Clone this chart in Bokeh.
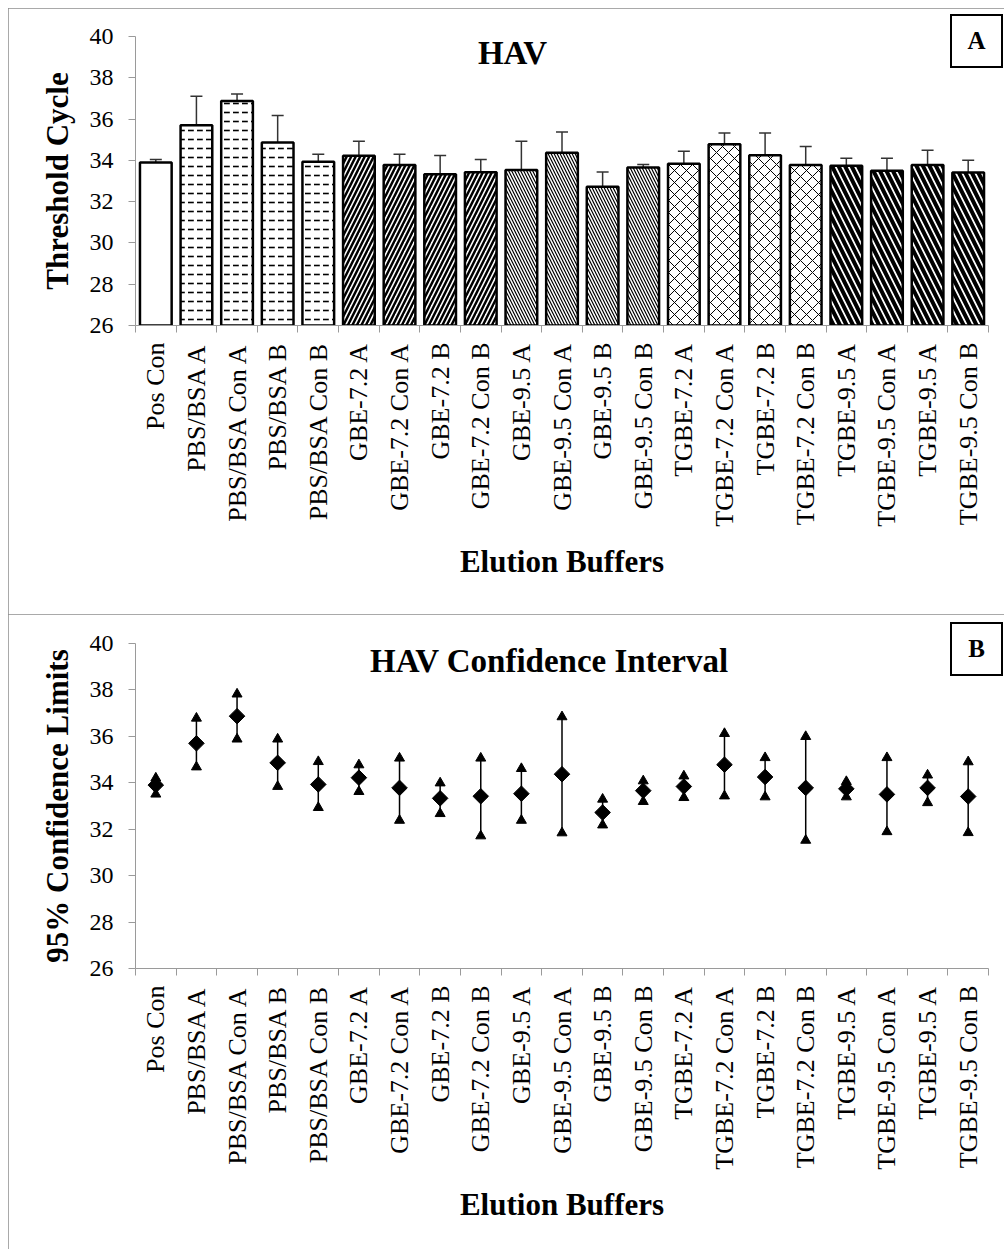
from bokeh.plotting import figure
from bokeh.models import (ColumnDataSource, FixedTicker, Whisker, TeeHead, Label,
                          Range1d, CustomJSTickFormatter, Div)
from bokeh.layouts import column
from bokeh.embed import file_html
from bokeh.resources import INLINE

# ---- data -------------------------------------------------------------
buffers = ["Pos Con", "PBS/BSA A", "PBS/BSA Con A", "PBS/BSA B", "PBS/BSA Con B",
           "GBE-7.2 A", "GBE-7.2 Con A", "GBE-7.2 B", "GBE-7.2 Con B",
           "GBE-9.5 A", "GBE-9.5 Con A", "GBE-9.5 B", "GBE-9.5 Con B",
           "TGBE-7.2 A", "TGBE-7.2 Con A", "TGBE-7.2 B", "TGBE-7.2 Con B",
           "TGBE-9.5 A", "TGBE-9.5 Con A", "TGBE-9.5 A", "TGBE-9.5 Con B"]

buffer_group = ["pos", "pbs", "pbs", "pbs", "pbs",
                "gbe72", "gbe72", "gbe72", "gbe72",
                "gbe95", "gbe95", "gbe95", "gbe95",
                "tgbe72", "tgbe72", "tgbe72", "tgbe72",
                "tgbe95", "tgbe95", "tgbe95", "tgbe95"]

ct_mean = [33.90, 35.70, 36.87, 34.86, 33.93,
           34.22, 33.78, 33.33, 33.42,
           33.53, 34.37, 32.72, 33.66,
           33.84, 34.78, 34.25, 33.78,
           33.74, 33.50, 33.78, 33.41]

ct_sd = [0.14, 1.41, 0.35, 1.31, 0.37,
         0.71, 0.52, 0.90, 0.62,
         1.40, 1.00, 0.71, 0.14,
         0.60, 0.54, 1.07, 0.89,
         0.36, 0.60, 0.71, 0.60]

ci_upper = [34.20, 36.78, 37.82, 35.88, 34.91,
            34.77, 35.06, 33.99, 35.06,
            34.61, 36.84, 33.29, 34.08,
            34.29, 36.12, 35.08, 35.99,
            34.05, 35.08, 34.33, 34.90]

ci_lower = [33.51, 34.68, 35.88, 33.84, 32.93,
            33.62, 32.38, 32.67, 31.71,
            32.38, 31.84, 32.18, 33.19,
            33.36, 33.43, 33.39, 31.52,
            33.39, 31.89, 33.14, 31.85]

y_ticks = [26, 28, 30, 32, 34, 36, 38, 40]

# ---- styles -----------------------------------------------------------
SERIF = "Liberation Serif"
AXIS_GREY = "#9a9a9a"

group_hatch = {
    "pos":    None,
    "pbs":    dict(hatch_pattern="horizontal_dash", hatch_scale=9, hatch_weight=1.6),
    "gbe72":  dict(hatch_pattern="right_diagonal_line", hatch_scale=9, hatch_weight=2.5),
    "gbe95":  dict(hatch_pattern="left_diagonal_line", hatch_scale=6, hatch_weight=1.2),
    "tgbe72": dict(hatch_pattern="diagonal_cross", hatch_scale=12, hatch_weight=1),
    "tgbe95": dict(hatch_pattern="left_diagonal_line", hatch_scale=13, hatch_weight=4),
}

xs = list(range(len(buffers)))


def make_panel(height, border_top, border_bottom, y_title):
    p = figure(width=996, height=height, output_backend="svg", toolbar_location=None,
               x_range=Range1d(-0.5, len(buffers) - 0.5), y_range=Range1d(26, 40),
               min_border_left=127, min_border_right=16,
               min_border_top=border_top, min_border_bottom=border_bottom)
    p.outline_line_color = None
    p.grid.visible = False
    p.background_fill_color = "white"
    p.border_fill_color = "white"

    xa = p.xaxis[0]
    xa.ticker = FixedTicker(ticks=xs, minor_ticks=[i - 0.5 for i in range(len(buffers) + 1)])
    xa.formatter = CustomJSTickFormatter(args=dict(labels=buffers),
                                         code="return labels[Math.round(tick)] || '';")
    xa.major_label_orientation = 1.5707963
    xa.major_tick_out = 0
    xa.major_tick_in = 0
    xa.minor_tick_out = 7
    xa.minor_tick_in = 0
    xa.minor_tick_line_color = AXIS_GREY
    xa.axis_line_color = AXIS_GREY
    xa.major_label_text_font = SERIF
    xa.major_label_text_font_size = "26px"
    xa.major_label_text_color = "black"
    xa.major_label_standoff = 10
    xa.axis_label = "Elution Buffers"
    xa.axis_label_text_font = SERIF
    xa.axis_label_text_font_style = "bold"
    xa.axis_label_text_font_size = "31px"
    xa.axis_label_text_color = "black"
    xa.axis_label_standoff = 14

    ya = p.yaxis[0]
    ya.ticker = FixedTicker(ticks=y_ticks, minor_ticks=[])
    ya.major_tick_out = 7
    ya.major_tick_in = 0
    ya.major_tick_line_color = AXIS_GREY
    ya.axis_line_color = AXIS_GREY
    ya.major_label_text_font = SERIF
    ya.major_label_text_font_size = "24px"
    ya.major_label_text_color = "black"
    ya.major_label_standoff = 15
    ya.axis_label = y_title
    ya.axis_label_text_font = SERIF
    ya.axis_label_text_font_style = "bold"
    ya.axis_label_text_font_size = "31px"
    ya.axis_label_text_color = "black"
    ya.axis_label_standoff = 12

    p.styles = {"outline": "1.5px solid #8c8c8c", "outline-offset": "-1px"}
    return p


def corner_tag(text, margin):
    box = ("width:53px;height:54px;box-sizing:border-box;border:2px solid #000;"
           "background:#fff;color:#000;text-align:center;line-height:50px;"
           "font-family:'Liberation Serif';font-weight:bold;font-size:25px;")
    return Div(text=f'<div style="{box}">{text}</div>', width=53, height=54, margin=margin)


# ---- panel A: mean threshold cycle with SD bars ------------------------
pa = make_panel(606, 28, 289, "Threshold Cycle")
pa.margin = (8, 0, 0, 8)

for grp, style in group_hatch.items():
    idx = [i for i, g in enumerate(buffer_group) if g == grp]
    src = ColumnDataSource(dict(x=[xs[i] for i in idx], top=[ct_mean[i] for i in idx]))
    kw = dict(style) if style else {}
    pa.vbar(x="x", top="top", bottom=26, width=0.78, source=src,
            fill_color="white", line_color="black", line_width=2.5,
            hatch_color="black", **kw)

err_src = ColumnDataSource(dict(x=xs, mean=ct_mean,
                                hi=[m + s for m, s in zip(ct_mean, ct_sd)]))
pa.add_layout(Whisker(source=err_src, base="x", lower="mean", upper="hi",
                      line_color="#333333", line_width=1.5, lower_head=None,
                      upper_head=TeeHead(size=12, line_color="#333333", line_width=1.5)))

pa.add_layout(Label(x=8.78, y=39.22, text="HAV", text_font=SERIF, text_font_style="bold",
                    text_font_size="33px", text_color="black",
                    text_align="center", text_baseline="middle"))

# ---- panel B: 95% confidence limits ------------------------------------
pb = make_panel(635, 29, 281, "95% Confidence Limits")
pb.margin = (0, 0, 0, 8)

ci_src = ColumnDataSource(dict(x=xs, mean=ct_mean, hi=ci_upper, lo=ci_lower))
pb.segment(x0="x", y0="lo", x1="x", y1="hi", source=ci_src,
           line_color="black", line_width=1.5)
pb.scatter(x="x", y="hi", source=ci_src, marker="triangle", size=10,
           fill_color="black", line_color="black")
pb.scatter(x="x", y="lo", source=ci_src, marker="triangle", size=10,
           fill_color="black", line_color="black")
pb.scatter(x="x", y="mean", source=ci_src, marker="square", angle=0.7853982, size=11,
           fill_color="black", line_color="black")

pb.add_layout(Label(x=9.69, y=39.25, text="HAV Confidence Interval", text_font=SERIF,
                    text_font_style="bold", text_font_size="33px", text_color="black",
                    text_align="center", text_baseline="middle"))

# panel tags sit over the top-right corner of each panel
tag_a = corner_tag("A", (-600, 0, 546, 950))
tag_b = corner_tag("B", (-627, 0, 573, 950))

layout = column(pa, tag_a, pb, tag_b, spacing=0)

with open("out.html", "w") as f:
    f.write(file_html(layout, INLINE))
